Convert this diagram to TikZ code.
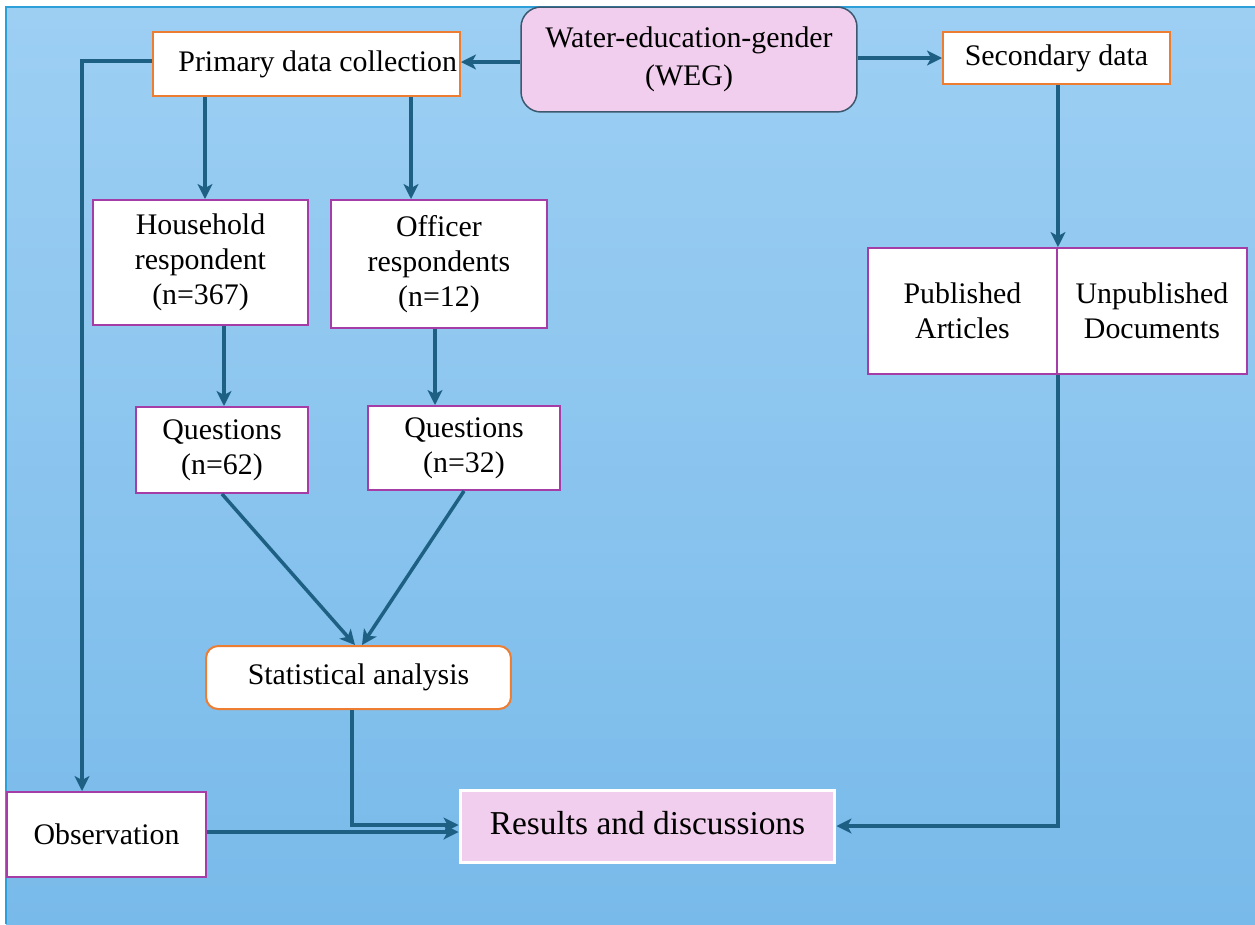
\documentclass[tikz,border=0pt]{standalone}
\usepackage{fontspec}
\setmainfont{Liberation Serif}
\usetikzlibrary{arrows.meta}

\definecolor{bgtop}{RGB}{157,207,243}
\definecolor{bgbottom}{RGB}{120,186,234}
\definecolor{bgline}{RGB}{45,160,218}
\definecolor{arrowblue}{RGB}{30,96,132}
\definecolor{boxorange}{RGB}{237,125,49}
\definecolor{boxpurple}{RGB}{166,60,166}
\definecolor{boxpink}{RGB}{242,206,238}
\definecolor{wegline}{RGB}{60,88,110}

\tikzset{
  txt/.style={font=\fontsize{17}{20}\selectfont, align=center, inner sep=0pt},
  orangebox/.style={txt, draw=boxorange, line width=0.04cm, fill=white},
  purplebox/.style={txt, draw=boxpurple, line width=0.04cm, fill=white},
  flow/.style={arrowblue, line width=0.07cm, -{Stealth[length=0.3cm,width=0.3cm,inset=0.08cm]}},
  link/.style={arrowblue, line width=0.07cm}
}

\begin{document}
\begin{tikzpicture}[x=0.02cm,y=-0.02cm]

\useasboundingbox (0,0) rectangle (1255,924);

%draw background
\shade[top color=bgtop,bottom color=bgbottom] (6,7) rectangle (1255,924);
\draw[bgline,line width=0.03cm] (6,924) -- (6,7) -- (1255,7);

%draw top row
\node[txt, draw=wegline, line width=0.03cm, fill=boxpink, rounded corners=0.4cm,
      minimum width=6.72cm, minimum height=2.1cm,
      font=\fontsize{17}{21.5}\selectfont] (weg) at (689,59.5)
      {Water-education-gender\\(WEG)};
\node[orangebox, minimum width=6.14cm, minimum height=1.28cm] (prim) at (306.5,64)
      {\hspace{0.45cm}Primary data collection};
\node[orangebox, minimum width=4.54cm, minimum height=1.04cm] (sec) at (1056.5,58)
      {Secondary data};

%draw respondents and questions
\node[purplebox, minimum width=4.3cm, minimum height=2.5cm] (house) at (200.5,262.5)
      {Household\\respondent\\(n=367)};
\node[purplebox, minimum width=4.32cm, minimum height=2.56cm] (off) at (439,264)
      {Officer\\respondents\\(n=12)};
\node[purplebox, minimum width=3.44cm, minimum height=1.72cm] (qhouse) at (222,450)
      {Questions\\(n=62)};
\node[purplebox, minimum width=3.84cm, minimum height=1.68cm] (qoff) at (464,448)
      {Questions\\(n=32)};

%draw analysis and results
\node[orangebox, rounded corners=0.24cm, minimum width=6.1cm, minimum height=1.26cm] (stat) at (358.5,677.5)
      {Statistical analysis};
\node[purplebox, minimum width=3.98cm, minimum height=1.7cm] (obs) at (106.5,834.5)
      {Observation};
\node[txt, draw=white, line width=0.06cm, fill=boxpink, minimum width=7.5cm, minimum height=1.44cm,
      font=\fontsize{19}{22}\selectfont] (res) at (647.5,826)
      {\raisebox{0.12cm}{Results and discussions}};

%draw documents
\node[purplebox, minimum width=3.78cm, minimum height=2.52cm] (pub) at (962.5,311)
      {Published\\Articles};
\node[purplebox, minimum width=3.8cm, minimum height=2.52cm] (unpub) at (1152,311)
      {Unpublished\\Documents};

%draw connectors from WEG
\draw[flow] (weg.west |- 0,62) -- (prim.east |- 0,62);
\draw[flow] (weg.east |- sec.west) -- (sec.west);

%draw primary branches
\draw[flow] (prim.west |- 0,61) -| ([xshift=-0.49cm]obs.north);
\draw[flow] ([xshift=0.09cm]house.north |- prim.south) -- ([xshift=0.09cm]house.north);
\draw[flow] ([xshift=-0.56cm]off.north |- prim.south) -- ([xshift=-0.56cm]off.north);
\draw[flow] ([xshift=0.04cm]qhouse.north |- house.south) -- ([xshift=0.04cm]qhouse.north);
\draw[flow] ([xshift=-0.08cm]off.south) -- ([xshift=-0.08cm]off.south |- qoff.north);

%draw questions to analysis
\foreach \q/\s in {qhouse/-0.07cm, qoff/0.07cm}
  {
  \draw[flow] (\q.south) -- ([xshift=\s]stat.north);
  }

%draw connectors to results
\draw[flow] ([xshift=-0.13cm]stat.south) |- ([yshift=0.02cm]res.west);
\draw[flow] (obs.east |- 0,832) -- (res.west |- 0,832);
\draw[flow] (pub.north east |- sec.south) -- (pub.north east);
\draw[flow] (pub.south east) |- (res.east);

\end{tikzpicture}
\end{document}
